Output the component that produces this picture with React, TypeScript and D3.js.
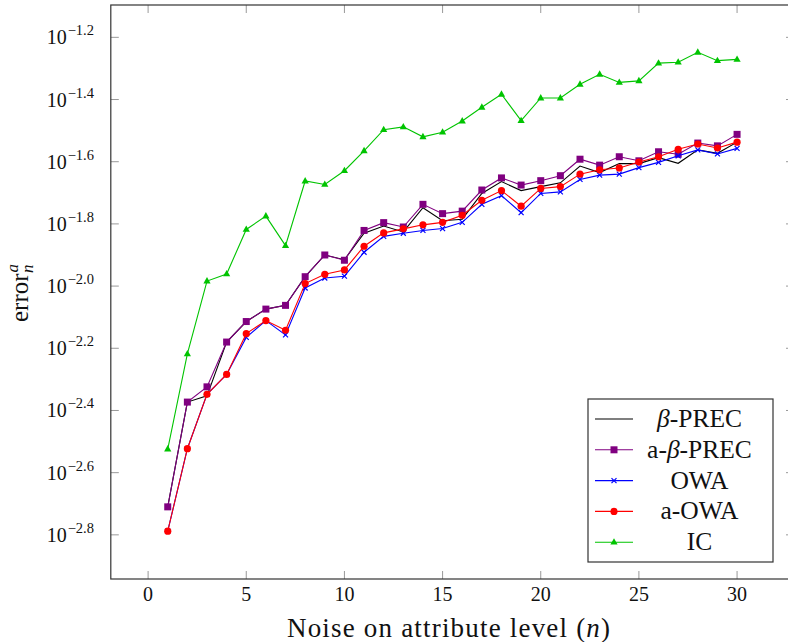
import * as d3 from 'd3'

const noise = d3.range(1, 31)

const betaPrec = [
    0.001950, 0.004236, 0.004436, 0.006607, 0.007691, 0.008433, 0.008670, 0.01072, 0.01259, 0.01216,
    0.01479, 0.01560, 0.01493, 0.01786, 0.01622, 0.01641, 0.01986, 0.02168, 0.02028, 0.02089,
    0.02148, 0.02432, 0.02317, 0.02477, 0.02477, 0.02588, 0.02483, 0.02742, 0.02673, 0.02904,
]
const aBetaPrec = [
    0.001950, 0.004236, 0.004742, 0.006607, 0.007691, 0.008433, 0.008670, 0.01072, 0.01259, 0.01211,
    0.01510, 0.01600, 0.01549, 0.01832, 0.01710, 0.01742, 0.02037, 0.02228, 0.02113, 0.02183,
    0.02265, 0.02559, 0.02449, 0.02606, 0.02529, 0.02704, 0.02655, 0.02884, 0.02825, 0.03076,
]
const owa = [
    0.001629, 0.002999, 0.004487, 0.005200, 0.006839, 0.007745, 0.006966, 0.009863, 0.01062, 0.01076,
    0.01285, 0.01445, 0.01479, 0.01510, 0.01531, 0.01603, 0.01832, 0.01954, 0.01722, 0.01986,
    0.02009, 0.02203, 0.02275, 0.02291, 0.02404, 0.02500, 0.02624, 0.02742, 0.02661, 0.02773,
]
const aOwa = [
    0.001629, 0.002999, 0.004487, 0.005200, 0.007031, 0.007745, 0.007211, 0.01019, 0.01091, 0.01127,
    0.01343, 0.01483, 0.01528, 0.01574, 0.01603, 0.01690, 0.01888, 0.02028, 0.01807, 0.02061,
    0.02089, 0.02291, 0.02366, 0.02399, 0.02506, 0.02606, 0.02754, 0.02864, 0.02780, 0.02904,
]
const ic = [
    0.002992, 0.006053, 0.01038, 0.01094, 0.01521, 0.01679, 0.01349, 0.02178, 0.02123, 0.02350,
    0.02723, 0.03184, 0.03251, 0.03020, 0.03126, 0.03396, 0.03758, 0.04140, 0.03404, 0.04027,
    0.04027, 0.04457, 0.04797, 0.04519, 0.04571, 0.05212, 0.05248, 0.05649, 0.05309, 0.05358,
]

const xTicks = [0, 5, 10, 15, 20, 25, 30]
const yTickExps = [-1.2, -1.4, -1.6, -1.8, -2.0, -2.2, -2.4, -2.6, -2.8]

const series = [
    { name: 'β-PREC', values: betaPrec, color: '#000000', mark: 'none' },
    { name: 'a-β-PREC', values: aBetaPrec, color: '#800080', mark: 'square' },
    { name: 'OWA', values: owa, color: '#0000ff', mark: 'x' },
    { name: 'a-OWA', values: aOwa, color: '#ff0000', mark: 'circle' },
    { name: 'IC', values: ic, color: '#00c400', mark: 'triangle' },
]

const FONT = '"Liberation Serif", "DejaVu Serif", serif'

function Marker({ type, x, y, color }) {
    if (type === 'square') return <rect x={x - 3.5} y={y - 3.5} width={7} height={7} fill={color} />
    if (type === 'circle') return <circle cx={x} cy={y} r={3.6} fill={color} />
    if (type === 'x') return (
        <path d={`M${x - 2.5},${y - 2.5}L${x + 2.5},${y + 2.5}M${x - 2.5},${y + 2.5}L${x + 2.5},${y - 2.5}`}
            stroke={color} strokeWidth={1.2} fill='none' />
    )
    if (type === 'triangle') return <path d={`M${x},${y - 4}L${x + 3.6},${y + 2.4}L${x - 3.6},${y + 2.4}Z`} fill={color} />
    return null
}

function LegendLabel({ name }) {
    // italic beta like TeX math
    if (!name.includes('β')) return <>{name}</>
    const [a, b] = name.split('β')
    return <>{a}<tspan fontStyle='italic'>β</tspan>{b}</>
}

export default function App() {
    const width = 788
    const height = 642
    const left = 110.8, right = 794, top = 5, bottom = 579

    const scaleX = d3.scaleLinear().domain([-1.9, 32.9]).range([left, right])
    const scaleY = d3.scaleLog().domain([Math.pow(10, -2.942), Math.pow(10, -1.096)]).range([bottom, top])

    const line = d3.line<number>()
        .x((d, i) => scaleX(noise[i]))
        .y(d => scaleY(d))

    const tickLen = 8
    const legX = 588, legY = 399, legW = 185, legH = 163

    return (
        <svg width={width} height={height} style={{ position: 'absolute', left: 0, top: 0 }} fontFamily={FONT}>
            <rect x={0} y={0} width={width} height={height} fill='white' />
            {/* ticks */}
            {xTicks.map(t => (
                <g key={'x' + t}>
                    <line x1={scaleX(t)} x2={scaleX(t)} y1={bottom} y2={bottom - tickLen} stroke='#999' />
                    <line x1={scaleX(t)} x2={scaleX(t)} y1={top} y2={top + tickLen} stroke='#999' />
                    <text x={scaleX(t)} y={601} textAnchor='middle' fontSize={20} fill='#111'>{t}</text>
                </g>
            ))}
            {yTickExps.map(e => {
                const y = scaleY(Math.pow(10, e))
                return (
                    <g key={'y' + e}>
                        <line x1={left} x2={left + tickLen} y1={y} y2={y} stroke='#999' />
                        <line x1={right} x2={right - tickLen} y1={y} y2={y} stroke='#999' />
                        <text x={94} y={y + 7} textAnchor='end' fill='#111'>
                            <tspan fontSize={20}>10</tspan>
                            <tspan fontSize={14.5} dy={-9} dx={1}>{'−' + e.toFixed(1).slice(1)}</tspan>
                        </text>
                    </g>
                )
            })}
            <rect x={left} y={top} width={right - left} height={bottom - top} fill='none' stroke='#333' strokeWidth={1.2} />

            {/* lines */}
            {series.map(s => (
                <g key={s.name}>
                    <path d={line(s.values)} fill='none' stroke={s.color} strokeWidth={1.1} />
                    {s.values.map((v, i) => (
                        <Marker key={i} type={s.mark} x={scaleX(noise[i])} y={scaleY(v)} color={s.color} />
                    ))}
                </g>
            ))}

            {/* legend */}
            <rect x={legX} y={legY} width={legW} height={legH} fill='white' stroke='#333' strokeWidth={1.2} />
            {series.map((s, i) => {
                const y = legY + 20 + i * 30.8
                return (
                    <g key={'leg' + s.name}>
                        <line x1={legX + 7} x2={legX + 45} y1={y} y2={y} stroke={s.color} strokeWidth={1.1} />
                        <Marker type={s.mark} x={legX + 26} y={y} color={s.color} />
                        <text x={legX + 111.5} y={y + 8} textAnchor='middle' fontSize={25.5} fill='#111'>
                            <LegendLabel name={s.name} />
                        </text>
                    </g>
                )
            })}

            {/* axis labels */}
            <text x={448.5} y={637} textAnchor='middle' fontSize={27} fill='#111'
                textLength={323} lengthAdjust='spacing'>
                Noise on attribute level (<tspan fontStyle='italic'>n</tspan>)
            </text>
            <g transform='translate(28, 293) rotate(-90)'>
                <text x={0} y={0} textAnchor='middle' fontSize={25} fill='#111'>
                    error
                    <tspan fontStyle='italic' fontSize={17} dy={-10} dx={1}>a</tspan>
                    <tspan fontStyle='italic' fontSize={17} dx={-9} dy={15}>n</tspan>
                </text>
            </g>
        </svg>
    )
}
